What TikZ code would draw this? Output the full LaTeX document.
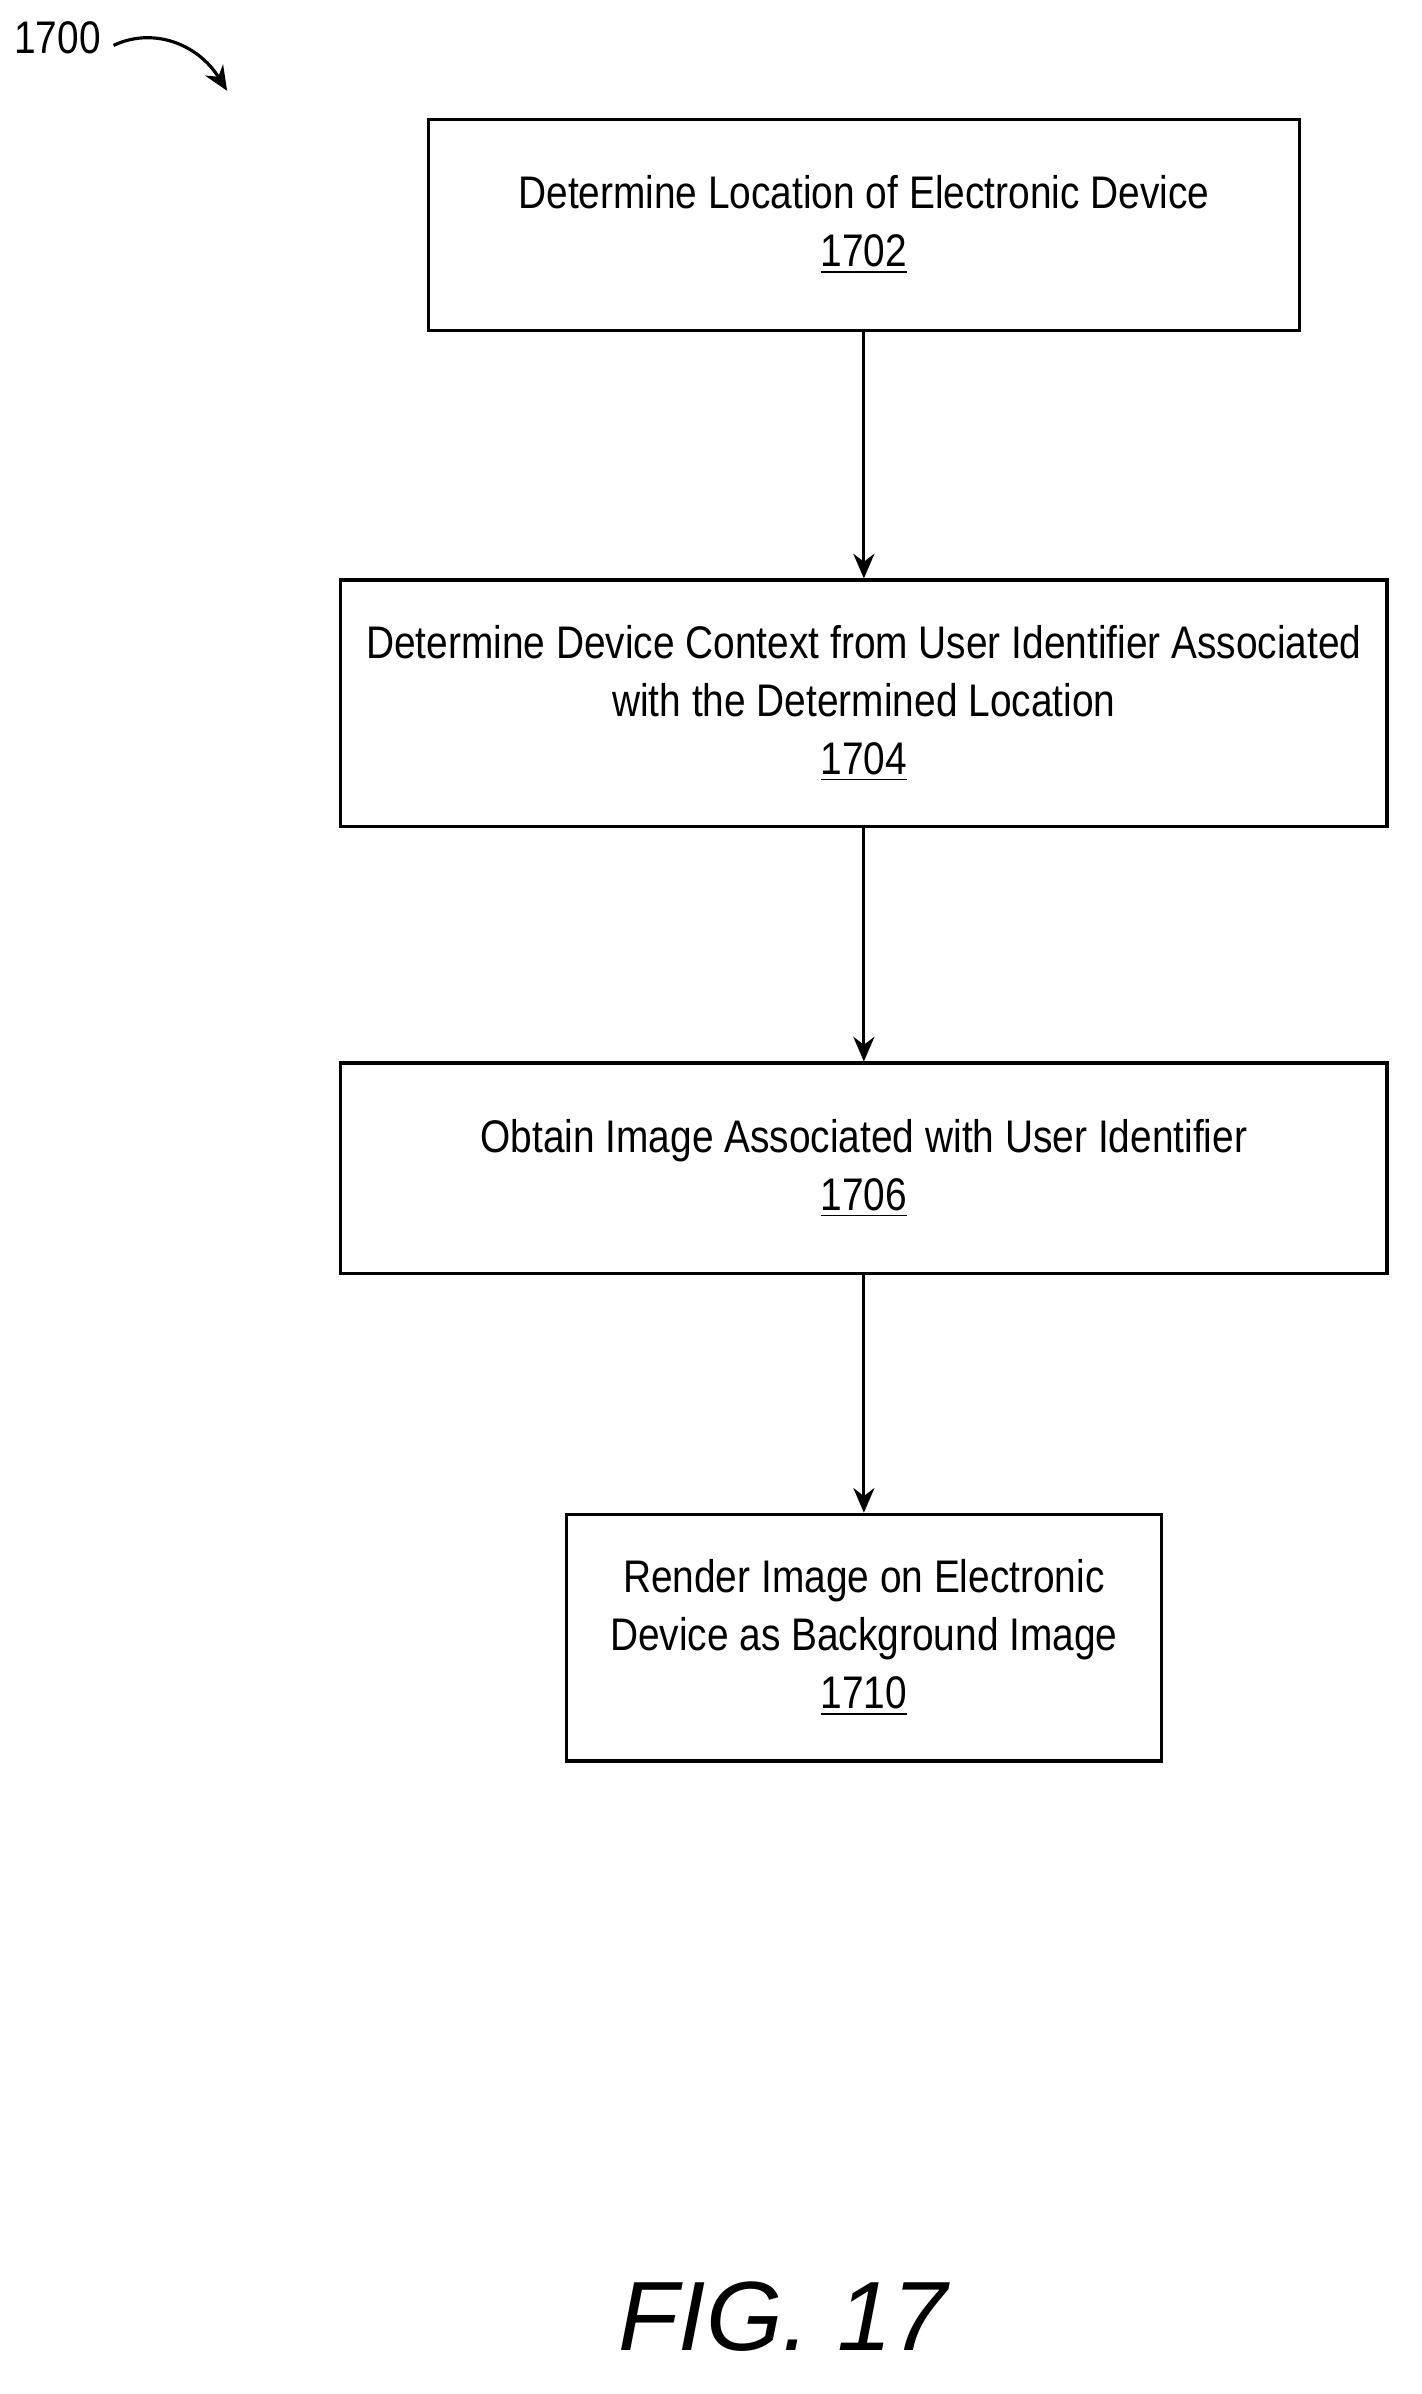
\documentclass[tikz,border=0pt]{standalone}
\usepackage{fontspec}
\setmainfont{Liberation Sans}[FakeStretch=0.85]
\newfontfamily\figfont{Liberation Sans}
\usetikzlibrary{arrows.meta}
\begin{document}
\begin{tikzpicture}[x=0.015144cm,y=-0.015144cm,
  box/.style={draw,line width=0.9pt,inner sep=0pt,align=center,font=\fontsize{13}{16.5}\selectfont},
  arr/.style={draw,line width=0.9pt,-{Stealth[length=7pt,width=6pt]}}]
\useasboundingbox (0,0) rectangle (939,1581);
\node[box,minimum width={575*0.015144cm},minimum height={139*0.015144cm}] (b1) at (570.5,148.5) {Determine Location of Electronic Device\\\underline{1702}};
\node[box,minimum width={691*0.015144cm},minimum height={163*0.015144cm}] (b2) at (570.5,464.5) {Determine Device Context from User Identifier Associated\\with the Determined Location\\\underline{1704}};
\node[box,minimum width={691*0.015144cm},minimum height={139*0.015144cm}] (b3) at (570.5,771.5) {Obtain Image Associated with User Identifier\\\underline{1706}};
\node[box,minimum width={393*0.015144cm},minimum height={163*0.015144cm}] (b4) at (570.5,1081.5) {Render Image on Electronic\\Device as Background Image\\\underline{1710}};
\draw[arr] (b1) -- (b2);
\draw[arr] (b2) -- (b3);
\draw[arr] (b3) -- (b4);
\node[font=\fontsize{13}{16}\selectfont] (lbl) at (38,25) {1700};
\coordinate (tip) at (150,60);
\draw[line width=0.9pt,-{Stealth[length=7pt,width=6pt]}] (75,30) .. controls (100,18) and (130,28) .. (tip);
\node[font=\figfont\fontsize{28}{32}\itshape] (fig) at (517,1530) {FIG. 17};
\end{tikzpicture}
\end{document}
